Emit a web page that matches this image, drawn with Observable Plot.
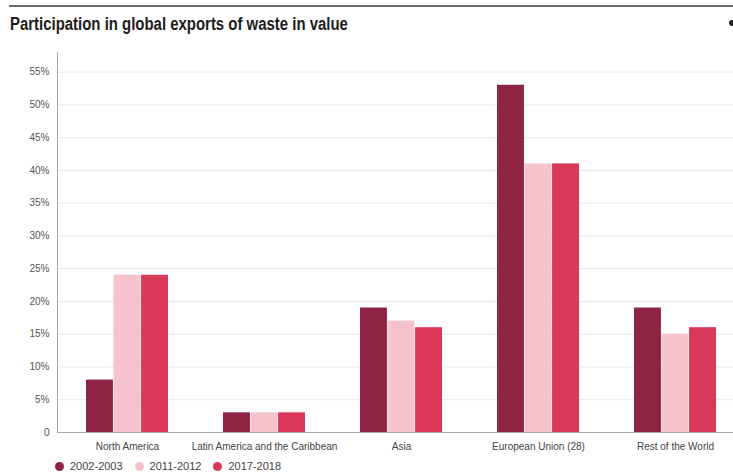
<!DOCTYPE html>
<html>
<head>
<meta charset="utf-8">
<script src="https://cdn.jsdelivr.net/npm/d3@7"></script>
<script src="https://cdn.jsdelivr.net/npm/@observablehq/plot@0.6"></script>
<style>
  html, body { margin: 0; padding: 0; background: #fff; }
  #wrap { position: relative; width: 733px; height: 475px; overflow: hidden; font-family: "Liberation Sans", Arial, sans-serif; }
  #topline { position: absolute; left: 9px; right: 0; top: 5px; height: 2px; background: #6b6b6b; }
  #title { position: absolute; left: 10px; top: 14px; font-family: "Liberation Sans", Arial, sans-serif; font-weight: bold; font-size: 18px; color: #1c1c1c; white-space: nowrap; transform: scaleX(0.83); transform-origin: 0 0; }
  #dot { position: absolute; left: 729px; top: 20px; width: 6px; height: 6px; border-radius: 3px; background: #222; }
  #chart { position: absolute; left: 0; top: 0; }
  #legend { position: absolute; left: 55px; top: 460px; display: flex; align-items: center; font-size: 11px; color: #444; }
  .item { display: flex; align-items: center; margin-right: 12px; }
  .sw { width: 9px; height: 9px; border-radius: 50%; margin-right: 6px; }
</style>
</head>
<body>
<div id="wrap">
  <div id="topline"></div>
  <div id="title">Participation in global exports of waste in value</div>
  <div id="dot"></div>
  <div id="chart"></div>
  <div id="legend"></div>
</div>
<script>
// ---- data ----
const regions = ["North America", "Latin America and the Caribbean", "Asia", "European Union (28)", "Rest of the World"];
const periods = ["2002-2003", "2011-2012", "2017-2018"];
const values2002 = [8, 3, 19, 53, 19];
const values2011 = [24, 3, 17, 41, 15];
const values2017 = [24, 3, 16, 41, 16];
const colors = ["#8e2344", "#f6c3cd", "#d93858"];
const yTicks = [0, 5, 10, 15, 20, 25, 30, 35, 40, 45, 50, 55];

const series = [values2002, values2011, values2017];
const rows = [];
periods.forEach((p, i) => regions.forEach((r, j) => rows.push({region: r, period: p, value: series[i][j]})));

const xOpts = {type: "band", domain: regions, range: [57, 745.5], paddingInner: 0.4, paddingOuter: 0.2};
const xs = Plot.scale({x: xOpts});
const w = xs.bandwidth / 3;

const barMarks = periods.map((p, i) =>
  Plot.barY(rows.filter(d => d.period === p), {
    x: "region", y: "value", fill: "period",
    insetLeft: i * w, insetRight: (2 - i) * w
  })
);

const chart = Plot.plot({
  width: 733,
  height: 475,
  marginLeft: 57,
  marginRight: 0,
  marginTop: 52,
  marginBottom: 43,
  style: {fontFamily: '"Liberation Sans", Arial, sans-serif', background: "transparent"},
  x: {...xOpts, axis: null, label: null},
  y: {domain: [0, 58], axis: null, label: null},
  color: {domain: periods, range: colors},
  marks: [
    Plot.gridY(yTicks.filter(t => t > 0), {stroke: "#e8e8e8", strokeOpacity: 1}),
    Plot.frame({anchor: "left", stroke: "#a8a8a8"}),
    ...barMarks,
    Plot.ruleY([0], {stroke: "#a8a8a8"}),
    Plot.axisY(yTicks, {tickSize: 0, tickPadding: 8, fontSize: 10, fill: "#555", label: null,
      tickFormat: d => d === 0 ? "0" : d + "%"}),
    Plot.axisX({tickSize: 0, tickPadding: 10, fontSize: 10, fill: "#444", label: null})
  ]
});
document.getElementById("chart").appendChild(chart);

const legend = document.getElementById("legend");
periods.forEach((p, i) => {
  const it = document.createElement("div");
  it.className = "item";
  const sw = document.createElement("span");
  sw.className = "sw";
  sw.style.background = colors[i];
  const t = document.createElement("span");
  t.textContent = p;
  it.appendChild(sw); it.appendChild(t);
  legend.appendChild(it);
});
</script>
</body>
</html>
